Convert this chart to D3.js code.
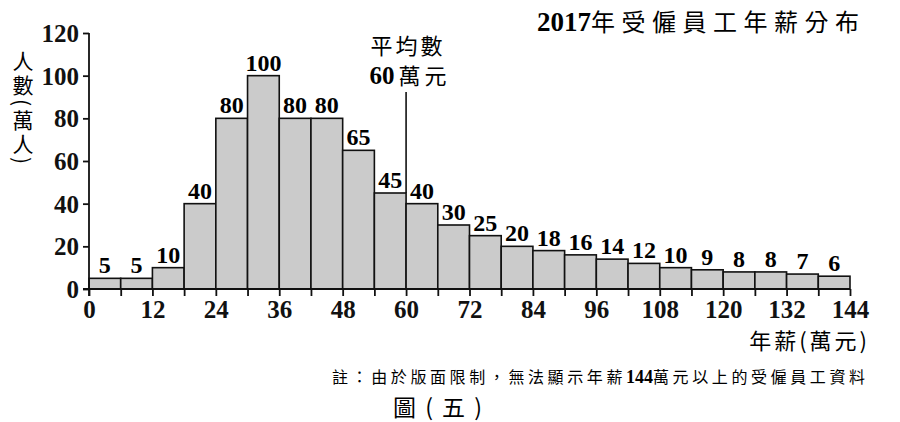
<!DOCTYPE html>
<html>
<head>
<meta charset="utf-8">
<script src="https://cdn.jsdelivr.net/npm/d3@7"></script>
<style>
  body { margin: 0; background: #fff; }
  .num { font-family: "Liberation Serif", "DejaVu Serif", serif; font-weight: bold; }
  .cjk { font-family: "Noto Sans CJK TC", "Noto Sans CJK SC", sans-serif; font-weight: 400; }
</style>
</head>
<body>
<div id="chart"></div>
<script>
// bins of 6 (萬元), lower edges 0..138
var binStarts = d3.range(0, 144, 6);
var counts = [5, 5, 10, 40, 80, 100, 80, 80, 65, 45, 40, 30, 25, 20, 18, 16, 14, 12, 10, 9, 8, 8, 7, 6];
var xTicks = [0, 12, 24, 36, 48, 60, 72, 84, 96, 108, 120, 132, 144];
var yTicks = [0, 20, 40, 60, 80, 100, 120];
var meanValue = 60;

var width = 900, height = 422;
var margin = {top: 33, right: 50, bottom: 133, left: 89};

var svg = d3.select("#chart").append("svg")
  .attr("width", width)
  .attr("height", height);

var x = d3.scaleLinear().domain([0, 144]).range([margin.left, 850]);
var y = d3.scaleLinear().domain([0, 120]).range([289, margin.top]);

// bars
svg.selectAll("rect.bar")
  .data(binStarts)
  .enter().append("rect")
  .attr("class", "bar")
  .attr("x", d => x(d))
  .attr("y", (d, i) => y(counts[i]))
  .attr("width", d => x(d + 6) - x(d))
  .attr("height", (d, i) => y(0) - y(counts[i]))
  .style("fill", "#cbcbcb")
  .style("stroke", "#111")
  .style("stroke-width", 1.6);

// bar labels
svg.selectAll("text.lab")
  .data(binStarts)
  .enter().append("text")
  .attr("class", "lab num")
  .attr("x", d => x(d + 3))
  .attr("y", (d, i) => y(counts[i]) - 5)
  .attr("text-anchor", "middle")
  .style("font-size", "24px")
  .text((d, i) => counts[i]);

// x axis
var xAxis = d3.axisBottom(x).tickValues(d3.range(0, 145, 6)).tickSize(7).tickSizeOuter(0)
  .tickFormat(d => xTicks.indexOf(d) >= 0 ? d : "");
var gx = svg.append("g")
  .attr("transform", `translate(0,${y(0)})`)
  .call(xAxis);
gx.select(".domain").attr("d", `M${x(0) - 6},0H${x(144)}`);

// y axis
var yAxis = d3.axisLeft(y).tickValues(yTicks).tickSize(6).tickSizeOuter(0);
var gy = svg.append("g")
  .attr("transform", `translate(${x(0)},0)`)
  .call(yAxis);
gy.select(".domain").attr("d", `M0,${y(120)}V${y(0) + 7}`);

[gx, gy].forEach(g => {
  g.selectAll(".domain, line").style("stroke", "#111").style("stroke-width", 1.8);
  g.selectAll("text").attr("class", "num").style("font-size", "25px").style("fill", "#111");
});
gx.selectAll("text").attr("y", 9).attr("dy", "0.8em");
gy.selectAll("text").attr("x", -10).attr("dy", "0.34em");

// mean line
var meanIdx = binStarts.indexOf(meanValue - 6);
svg.append("line")
  .attr("x1", x(meanValue)).attr("x2", x(meanValue))
  .attr("y1", 92).attr("y2", y(counts[meanIdx]))
  .style("stroke", "#111").style("stroke-width", 1.6);

svg.append("text").attr("class", "cjk")
  .attr("x", x(meanValue) + 2).attr("y", 54)
  .attr("text-anchor", "middle")
  .style("font-size", "22px")
  .style("letter-spacing", "3px")
  .text("平均數");
var meanLab = svg.append("text")
  .attr("x", x(meanValue) + 4).attr("y", 84)
  .attr("text-anchor", "middle");
meanLab.append("tspan").attr("class", "num").style("font-size", "25px").text(meanValue);
meanLab.append("tspan").attr("class", "cjk").style("font-size", "22px").style("letter-spacing", "4px").attr("dx", 4).text("萬元");

// title
var title = svg.append("text").attr("x", 537).attr("y", 31);
title.append("tspan").attr("class", "num").style("font-size", "27px").text("2017");
title.append("tspan").attr("class", "cjk").style("font-size", "24px").style("letter-spacing", "6.5px").text("年受僱員工年薪分布");

// y axis title (vertical)
svg.append("text").attr("class", "cjk")
  .attr("x", 23).attr("y", 51)
  .style("writing-mode", "vertical-rl")
  .style("font-size", "21px")
  .style("letter-spacing", "3px")
  .text("人數(萬人)");

// x axis title
svg.append("text").attr("class", "cjk")
  .attr("x", 870).attr("y", 349)
  .attr("text-anchor", "end")
  .style("font-size", "22px")
  .style("letter-spacing", "3px")
  .text("年薪(萬元)");

// note
var note = svg.append("text").attr("x", 332).attr("y", 383).style("font-size", "16px");
note.append("tspan").attr("class", "cjk").style("letter-spacing", "3.6px").text("註：由於版面限制，無法顯示年薪");
note.append("tspan").attr("class", "num").style("font-size", "18px").text("144");
note.append("tspan").attr("class", "cjk").style("letter-spacing", "3.6px").text("萬元以上的受僱員工資料");

// figure caption
svg.append("text").attr("class", "cjk")
  .attr("x", 393).attr("y", 416)
  .style("font-size", "23px")
  .style("letter-spacing", "2px")
  .text("圖 ( 五 )");
</script>
</body>
</html>
